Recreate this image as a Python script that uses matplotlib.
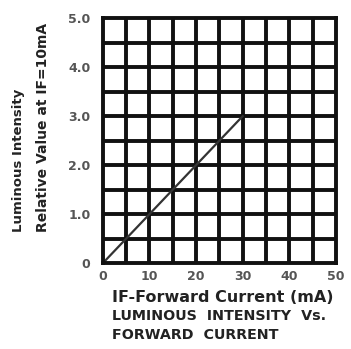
import numpy as np
import matplotlib
matplotlib.use('Agg')
import matplotlib.pyplot as plt

# Forward current (mA) and relative luminous intensity (normalised at IF=10mA)
current_ma = [0, 30]
rel_intensity = [0.0, 3.0]

x_ticks = [0, 10, 20, 30, 40, 50]
y_ticks = [0, 1.0, 2.0, 3.0, 4.0, 5.0]
y_tick_labels = ['0', '1.0', '2.0', '3.0', '4.0', '5.0']

fig = plt.figure(figsize=(3.51, 3.49), dpi=100)
ax = fig.add_axes([0.293, 0.246, 0.664, 0.702])

ax.set_xlim(0, 50)
ax.set_ylim(0, 5.0)

# Heavy grid every 5 mA / 0.5 units
for x in np.arange(5, 50, 5):
    ax.axvline(x, color='#111111', lw=2.8, zorder=1)
for y in np.arange(0.5, 5.0, 0.5):
    ax.axhline(y, color='#111111', lw=2.8, zorder=1)

ax.plot(current_ma, rel_intensity, color='#333333', lw=1.6, zorder=2)

for s in ax.spines.values():
    s.set_linewidth(2.8)
    s.set_color('#111111')

ax.set_xticks(x_ticks)
ax.set_yticks(y_ticks)
ax.set_yticklabels(y_tick_labels)
ax.tick_params(length=0, labelsize=9, colors='#555555')
ax.tick_params(axis='y', pad=9)
ax.tick_params(axis='x', pad=5)
for lbl in ax.get_xticklabels() + ax.get_yticklabels():
    lbl.set_fontweight('bold')

fig.text(0.052, 0.335, 'Luminous Intensity', rotation=90, ha='center', va='bottom',
         fontsize=9.5, fontweight='bold', color='#222222')
fig.text(0.122, 0.335, 'Relative Value at IF=10mA', rotation=90, ha='center', va='bottom',
         fontsize=10, fontweight='bold', color='#222222')

fig.text(0.318, 0.148, 'IF-Forward Current (mA)', ha='left', va='center',
         fontsize=11.5, fontweight='bold', color='#222222')
fig.text(0.318, 0.094, 'LUMINOUS  INTENSITY  Vs.', ha='left', va='center',
         fontsize=10.3, fontweight='bold', color='#222222')
fig.text(0.318, 0.04, 'FORWARD  CURRENT', ha='left', va='center',
         fontsize=10.3, fontweight='bold', color='#222222')

fig.savefig('out.png', dpi=100)
